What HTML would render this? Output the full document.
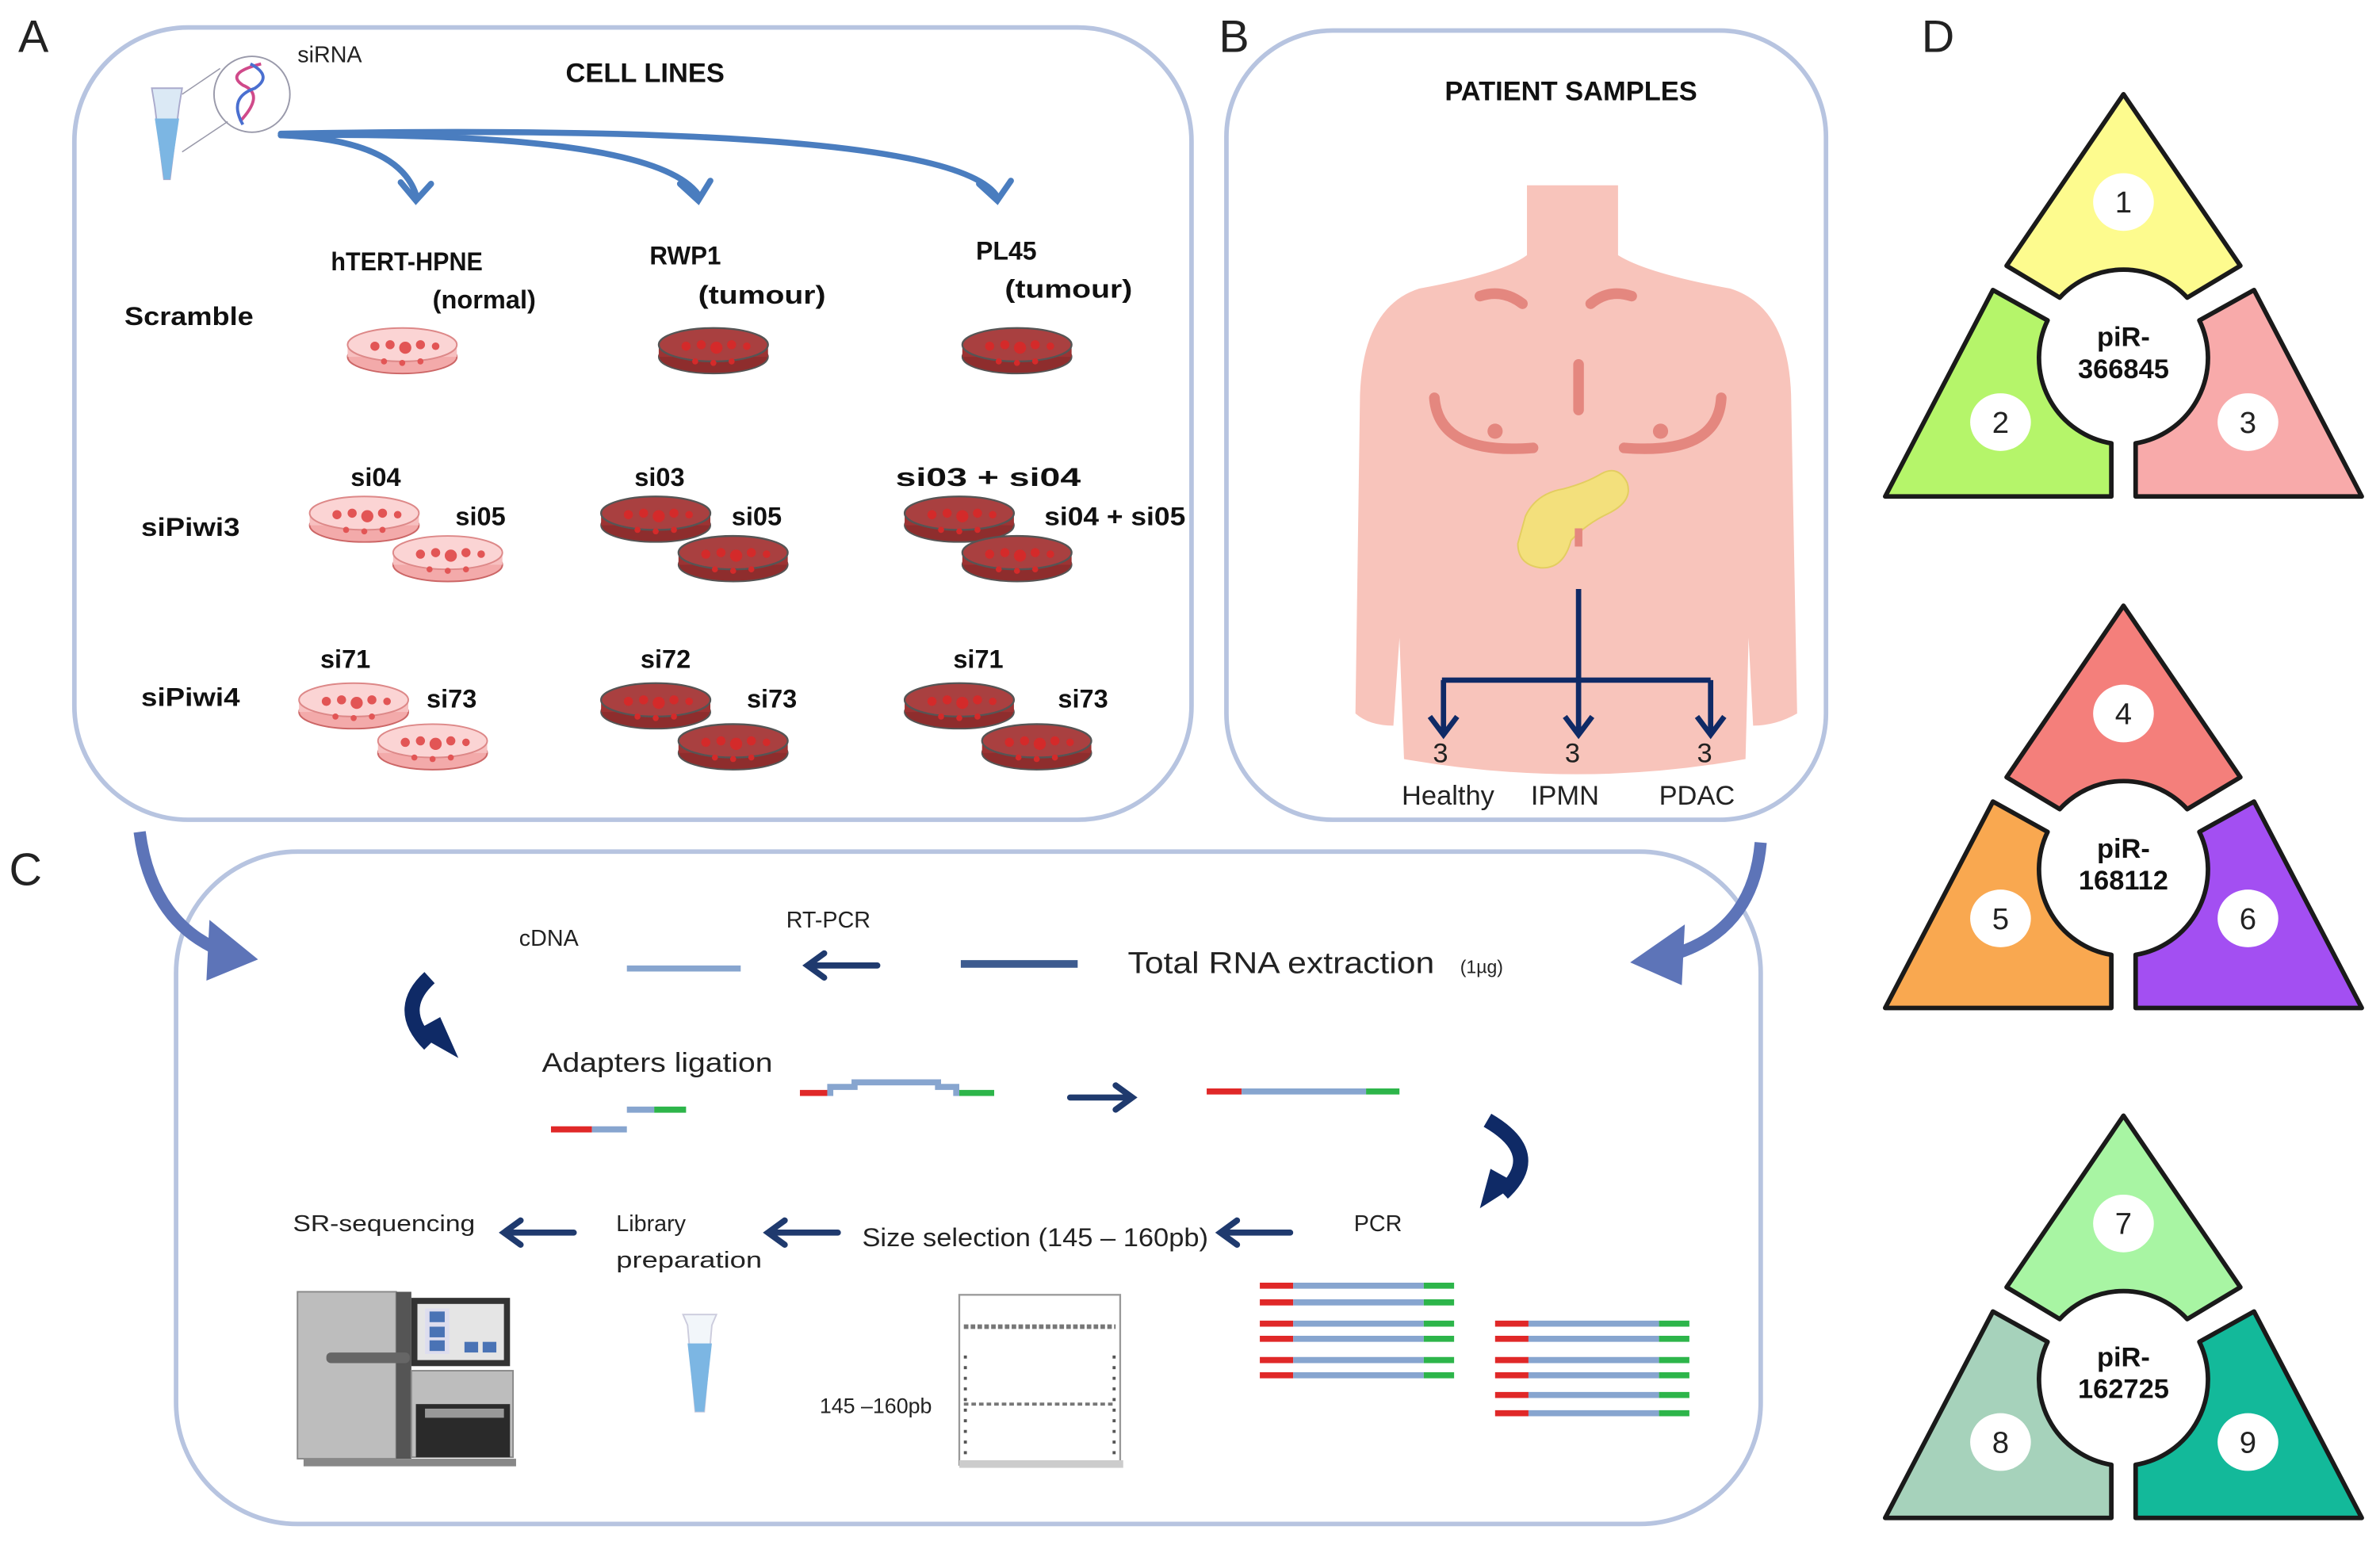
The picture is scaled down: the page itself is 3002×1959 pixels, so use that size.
<!DOCTYPE html>
<html><head><meta charset="utf-8"><style>
html,body{margin:0;padding:0;background:#fff;}
svg{display:block;}
.b{font-family:"Liberation Sans",sans-serif;font-weight:bold;fill:#111;}
.n{font-family:"Liberation Sans",sans-serif;fill:#222;}
</style></head><body>
<svg width="3002" height="1959" viewBox="0 0 1568 1023" xmlns="http://www.w3.org/2000/svg">
<defs>
<g id="dp">
<ellipse cx="0" cy="4" rx="36" ry="11" fill="#f3aaaa" stroke="#c66" stroke-width="1"/>
<rect x="-36" y="-4" width="72" height="8" fill="#f7c0c0"/>
<ellipse cx="0" cy="-4" rx="36" ry="11" fill="#fbd4d4" stroke="#d88" stroke-width="1"/>
<g fill="#e25555"><circle cx="-18" cy="-3" r="3"/><circle cx="-8" cy="-4" r="3"/><circle cx="2" cy="-2" r="4"/><circle cx="12" cy="-4" r="3"/><circle cx="22" cy="-3" r="2.5"/><circle cx="-12" cy="7" r="2"/><circle cx="0" cy="8" r="2"/><circle cx="12" cy="7" r="2"/></g>
</g>
<g id="dd">
<ellipse cx="0" cy="4" rx="36" ry="11" fill="#8e2d2d" stroke="#555" stroke-width="1"/>
<rect x="-36" y="-4" width="72" height="8" fill="#9c3333"/>
<ellipse cx="0" cy="-4" rx="36" ry="11" fill="#a94040" stroke="#555" stroke-width="1.2"/>
<g fill="#d42a2a"><circle cx="-18" cy="-3" r="3"/><circle cx="-8" cy="-4" r="3"/><circle cx="2" cy="-2" r="4"/><circle cx="12" cy="-4" r="3"/><circle cx="22" cy="-3" r="2.5"/><circle cx="-12" cy="7" r="2"/><circle cx="0" cy="8" r="2"/><circle cx="12" cy="7" r="2"/></g>
</g>
<g id="pl" stroke-width="4"><line x1="830" y1="0" x2="852" y2="0" stroke="#e02828"/><line x1="852" y1="0" x2="938" y2="0" stroke="#87a5cf"/><line x1="938" y1="0" x2="958" y2="0" stroke="#2db54a"/></g>
</defs>

<text x="12" y="34" class="n" font-size="30" fill="#000">A</text>
<text x="803" y="34" class="n" font-size="30" fill="#000">B</text>
<text x="6" y="583" class="n" font-size="30" fill="#000">C</text>
<text x="1266" y="34" class="n" font-size="30" fill="#000">D</text>

<rect x="49" y="18" width="736" height="522" rx="75" fill="none" stroke="#b7c4e0" stroke-width="3"/>
<rect x="808" y="20" width="395" height="520" rx="70" fill="none" stroke="#b7c4e0" stroke-width="3"/>
<rect x="116" y="561" width="1044" height="443" rx="80" fill="none" stroke="#b7c4e0" stroke-width="3"/>

<!-- Panel A -->
<path d="M100,58 L120,58 L118,70 L112,118 L108,118 L102,70 Z" fill="#dbe9f5" stroke="#aac" stroke-width="1"/>
<path d="M102,78 L118,78 L112,118 L108,118 Z" fill="#7cb6e3"/>
<circle cx="166" cy="62" r="25" fill="#fff" stroke="#99a" stroke-width="1"/>
<line x1="120" y1="62" x2="145" y2="45" stroke="#99a" stroke-width="0.8"/>
<line x1="120" y1="100" x2="150" y2="80" stroke="#99a" stroke-width="0.8"/>
<path d="M158,80 Q175,62 160,56 Q148,48 172,42" fill="none" stroke="#d04a8a" stroke-width="2"/>
<path d="M160,82 Q150,64 168,58 Q180,50 165,42" fill="none" stroke="#4a6fd0" stroke-width="2"/>
<text x="196" y="41" class="n" font-size="15">siRNA</text>
<text x="425" y="54" class="b" font-size="18" text-anchor="middle">CELL LINES</text>
<g fill="none" stroke="#4a7dbf" stroke-width="4" stroke-linecap="round">
<path d="M185,89 Q262,92 274,128"/>
<path d="M185,89 Q430,86 460,128"/>
<path d="M185,88 Q620,80 656,128"/>
<path d="M264,120 L274,132 L284,121"/>
<path d="M448,121 L460,132 L468,119"/>
<path d="M645,121 L657,132 L666,119"/>
</g>
<g class="b" font-size="17">
<text x="218" y="178" textLength="100" lengthAdjust="spacingAndGlyphs">hTERT-HPNE</text>
<text x="285" y="203" textLength="68" lengthAdjust="spacingAndGlyphs">(normal)</text>
<text x="428" y="174" textLength="47" lengthAdjust="spacingAndGlyphs">RWP1</text>
<text x="460" y="200" textLength="84" lengthAdjust="spacingAndGlyphs">(tumour)</text>
<text x="643" y="171" textLength="40" lengthAdjust="spacingAndGlyphs">PL45</text>
<text x="662" y="196" textLength="84" lengthAdjust="spacingAndGlyphs">(tumour)</text>
<text x="82" y="214" textLength="85" lengthAdjust="spacingAndGlyphs">Scramble</text>
<text x="93" y="353" textLength="65" lengthAdjust="spacingAndGlyphs">siPiwi3</text>
<text x="93" y="465" textLength="65" lengthAdjust="spacingAndGlyphs">siPiwi4</text>
<text x="231" y="320">si04</text>
<text x="300" y="346">si05</text>
<text x="418" y="320">si03</text>
<text x="482" y="346">si05</text>
<text x="590" y="320" textLength="122" lengthAdjust="spacingAndGlyphs">si03 + si04</text>
<text x="688" y="346" textLength="93" lengthAdjust="spacingAndGlyphs">si04 + si05</text>
<text x="211" y="440">si71</text>
<text x="281" y="466">si73</text>
<text x="422" y="440">si72</text>
<text x="492" y="466">si73</text>
<text x="628" y="440">si71</text>
<text x="697" y="466">si73</text>
</g>
<use href="#dp" x="265" y="231"/>
<use href="#dd" x="470" y="231"/>
<use href="#dd" x="670" y="231"/>
<use href="#dp" x="240" y="342"/><use href="#dp" x="295" y="368"/>
<use href="#dd" x="432" y="342"/><use href="#dd" x="483" y="368"/>
<use href="#dd" x="632" y="342"/><use href="#dd" x="670" y="368"/>
<use href="#dp" x="233" y="465"/><use href="#dp" x="285" y="492"/>
<use href="#dd" x="432" y="465"/><use href="#dd" x="483" y="492"/>
<use href="#dd" x="632" y="465"/><use href="#dd" x="683" y="492"/>

<!-- Panel B -->
<text x="1035" y="66" class="b" font-size="18" text-anchor="middle">PATIENT SAMPLES</text>
<path d="M1006,122 L1066,122 L1066,168 Q1085,180 1140,190 Q1178,202 1180,260 L1184,470 Q1170,478 1155,478 L1152,420 L1150,500 Q1040,520 925,500 L922,420 L918,478 Q902,478 893,470 L896,260 Q898,202 935,190 Q990,180 1006,168 Z" fill="#f8c4bb"/>
<g fill="none" stroke="#e4877f" stroke-width="7" stroke-linecap="round">
<path d="M975,195 Q990,190 1003,200"/>
<path d="M1048,200 Q1060,190 1075,195"/>
<path d="M1040,240 L1040,270"/>
<path d="M945,262 Q948,300 1010,295"/>
<path d="M1070,295 Q1132,300 1134,262"/>
</g>
<circle cx="985" cy="284" r="5" fill="#e4877f"/>
<circle cx="1094" cy="284" r="5" fill="#e4877f"/>
<path d="M1005,340 Q1012,325 1030,322 Q1045,318 1055,312 Q1066,306 1072,318 Q1076,330 1060,338 Q1045,345 1035,356 Q1030,375 1015,374 Q1000,372 1000,358 Z" fill="#f3e07c" stroke="#e3cd60" stroke-width="1"/>
<path d="M1040,348 L1040,360" stroke="#e4877f" stroke-width="5"/>
<g fill="none" stroke="#0f2a66" stroke-width="3.5">
<path d="M1040,388 L1040,482"/>
<path d="M950,448 L1127,448"/>
<path d="M951,448 L951,482"/>
<path d="M1127,448 L1127,482"/>
<path d="M942,472 L951,484 L960,472"/>
<path d="M1031,472 L1040,484 L1049,472"/>
<path d="M1118,472 L1127,484 L1136,472"/>
</g>
<g class="n" font-size="18" text-anchor="middle">
<text x="949" y="502">3</text><text x="1036" y="502">3</text><text x="1123" y="502">3</text>
<text x="954" y="530">Healthy</text><text x="1031" y="530">IPMN</text><text x="1118" y="530">PDAC</text>
</g>

<path d="M92,548 Q100,610 150,628" fill="none" stroke="#5d74b8" stroke-width="8"/>
<path d="M138,606 L170,632 L136,646 Z" fill="#5d74b8"/>
<path d="M1160,555 Q1155,615 1098,630" fill="none" stroke="#5d74b8" stroke-width="8"/>
<path d="M1110,609 L1074,634 L1108,649 Z" fill="#5d74b8"/>

<!-- Panel C -->
<g class="n" font-size="15">
<text x="342" y="623">cDNA</text>
<text x="518" y="611">RT-PCR</text>
<text x="357" y="706" font-size="18" textLength="152" lengthAdjust="spacingAndGlyphs">Adapters ligation</text>
<text x="193" y="811" textLength="120" lengthAdjust="spacingAndGlyphs">SR-sequencing</text>
<text x="406" y="811">Library</text>
<text x="406" y="835" textLength="96" lengthAdjust="spacingAndGlyphs">preparation</text>
<text x="568" y="821" font-size="17" textLength="228" lengthAdjust="spacingAndGlyphs">Size selection (145 – 160pb)</text>
<text x="892" y="811">PCR</text>
<text x="540" y="931" font-size="14">145 –160pb</text>
</g>
<text x="743" y="641" class="n" font-size="20" textLength="202" lengthAdjust="spacingAndGlyphs">Total RNA extraction</text>
<text x="962" y="641" class="n" font-size="12">(1µg)</text>
<line x1="413" y1="638" x2="488" y2="638" stroke="#87a5cf" stroke-width="4"/>
<line x1="633" y1="635" x2="710" y2="635" stroke="#3d5b8f" stroke-width="5"/>
<g fill="none" stroke="#1f3a6e" stroke-width="4" stroke-linecap="round">
<path d="M578,636 L533,636 M543,628 L532,636 L543,644"/>
<path d="M705,723 L745,723 M735,715 L746,723 L735,731"/>
<path d="M378,812 L333,812 M343,804 L332,812 L343,820"/>
<path d="M552,812 L507,812 M517,804 L506,812 L517,820"/>
<path d="M850,812 L805,812 M815,804 L804,812 L815,820"/>
</g>
<path d="M283,644 Q260,665 283,688" fill="none" stroke="#0f2a66" stroke-width="10"/>
<path d="M272,680 L302,697 L290,670 Z" fill="#0f2a66"/>
<path d="M980,738 Q1018,760 990,786" fill="none" stroke="#0f2a66" stroke-width="10"/>
<path d="M1000,780 L975,796 L982,770 Z" fill="#0f2a66"/>
<g stroke-width="4">
<line x1="363" y1="744" x2="390" y2="744" stroke="#e02828"/>
<line x1="390" y1="744" x2="413" y2="744" stroke="#87a5cf"/>
<line x1="413" y1="731" x2="431" y2="731" stroke="#87a5cf"/>
<line x1="431" y1="731" x2="452" y2="731" stroke="#2db54a"/>
<line x1="527" y1="720" x2="547" y2="720" stroke="#e02828"/>
<line x1="630" y1="720" x2="655" y2="720" stroke="#2db54a"/>
<line x1="795" y1="719" x2="818" y2="719" stroke="#e02828"/>
<line x1="818" y1="719" x2="900" y2="719" stroke="#87a5cf"/>
<line x1="900" y1="719" x2="922" y2="719" stroke="#2db54a"/>
</g>
<path d="M547,722 L547,716 L563,716 L563,713 L618,713 L618,716 L630,716 L630,722" fill="none" stroke="#87a5cf" stroke-width="4"/>
<use href="#pl" y="847"/><use href="#pl" y="858"/><use href="#pl" y="872"/><use href="#pl" y="882"/><use href="#pl" y="896"/><use href="#pl" y="906"/>
<use href="#pl" x="155" y="872"/><use href="#pl" x="155" y="882"/><use href="#pl" x="155" y="896"/><use href="#pl" x="155" y="906"/><use href="#pl" x="155" y="919"/><use href="#pl" x="155" y="931"/>
<rect x="196" y="851" width="65" height="110" fill="#bdbdbd" stroke="#888" stroke-width="1"/>
<rect x="261" y="851" width="10" height="110" fill="#555"/>
<rect x="271" y="855" width="65" height="45" fill="#333"/>
<rect x="275" y="859" width="57" height="37" fill="#e5e5e5"/>
<rect x="280" y="862" width="16" height="30" fill="#dde"/>
<rect x="283" y="864" width="10" height="7" fill="#4a73b5"/><rect x="283" y="874" width="10" height="7" fill="#4a73b5"/><rect x="283" y="883" width="10" height="7" fill="#4a73b5"/>
<rect x="306" y="884" width="9" height="7" fill="#4a73b5"/><rect x="318" y="884" width="9" height="7" fill="#4a73b5"/>
<rect x="271" y="903" width="67" height="57" fill="#bdbdbd" stroke="#888" stroke-width="1"/>
<rect x="274" y="925" width="62" height="35" fill="#2a2a2a"/>
<rect x="280" y="928" width="52" height="6" fill="#999"/>
<rect x="215" y="891" width="55" height="7" rx="3" fill="#666"/>
<rect x="200" y="961" width="140" height="5" fill="#888"/>
<path d="M450,866 L472,866 L469,873 L464,930 L458,930 L453,873 Z" fill="#f2f6fa" stroke="#ccd" stroke-width="1"/>
<path d="M453,885 L469,885 L464,930 L458,930 Z" fill="#7cb6e3"/>
<rect x="632" y="853" width="106" height="112" fill="#fff" stroke="#999" stroke-width="1.2"/>
<rect x="632" y="962" width="108" height="5" fill="#ccc"/>
<line x1="635" y1="874" x2="735" y2="874" stroke="#777" stroke-width="3" stroke-dasharray="3,1.5"/>
<line x1="635" y1="925" x2="735" y2="925" stroke="#777" stroke-width="2" stroke-dasharray="3,2"/>
<line x1="636" y1="893" x2="636" y2="960" stroke="#555" stroke-width="2" stroke-dasharray="2,5"/>
<line x1="734" y1="893" x2="734" y2="960" stroke="#555" stroke-width="2" stroke-dasharray="2,5"/>

<!-- Panel D -->
<g stroke="#1a1a1a" stroke-width="3" stroke-linejoin="round">
<path d="M1399,62 L1476,175 L1441,196 A57,57 0 0 0 1357,196 L1322,175 Z" fill="#fdfb8e"/>
<path d="M1313,191 L1349,211 A57,57 0 0 0 1391,292 L1391,327 L1242,327 Z" fill="#b5f56a"/>
<path d="M1485,191 L1449,211 A57,57 0 0 1 1407,292 L1407,327 L1556,327 Z" fill="#f8aaaa"/>
</g>
<g stroke="#1a1a1a" stroke-width="3" stroke-linejoin="round" transform="translate(0,337)">
<path d="M1399,62 L1476,175 L1441,196 A57,57 0 0 0 1357,196 L1322,175 Z" fill="#f47f7b"/>
<path d="M1313,191 L1349,211 A57,57 0 0 0 1391,292 L1391,327 L1242,327 Z" fill="#f9a850"/>
<path d="M1485,191 L1449,211 A57,57 0 0 1 1407,292 L1407,327 L1556,327 Z" fill="#a34ff2"/>
</g>
<g stroke="#1a1a1a" stroke-width="3" stroke-linejoin="round" transform="translate(0,673)">
<path d="M1399,62 L1476,175 L1441,196 A57,57 0 0 0 1357,196 L1322,175 Z" fill="#a8f5a3"/>
<path d="M1313,191 L1349,211 A57,57 0 0 0 1391,292 L1391,327 L1242,327 Z" fill="#a6d2bb"/>
<path d="M1485,191 L1449,211 A57,57 0 0 1 1407,292 L1407,327 L1556,327 Z" fill="#13b99a"/>
</g>
<g fill="#fff">
<ellipse cx="1399" cy="133" rx="20" ry="19"/><ellipse cx="1318" cy="278" rx="20" ry="19"/><ellipse cx="1481" cy="278" rx="20" ry="19"/>
<ellipse cx="1399" cy="470" rx="20" ry="19"/><ellipse cx="1318" cy="605" rx="20" ry="19"/><ellipse cx="1481" cy="605" rx="20" ry="19"/>
<ellipse cx="1399" cy="806" rx="20" ry="19"/><ellipse cx="1318" cy="950" rx="20" ry="19"/><ellipse cx="1481" cy="950" rx="20" ry="19"/>
</g>
<g class="n" font-size="20" text-anchor="middle" fill="#333">
<text x="1399" y="140">1</text><text x="1318" y="285">2</text><text x="1481" y="285">3</text>
<text x="1399" y="477">4</text><text x="1318" y="612">5</text><text x="1481" y="612">6</text>
<text x="1399" y="813">7</text><text x="1318" y="957">8</text><text x="1481" y="957">9</text>
</g>
<g class="b" font-size="18" text-anchor="middle" fill="#333">
<text x="1399" y="228">piR-</text><text x="1399" y="249">366845</text>
<text x="1399" y="565">piR-</text><text x="1399" y="586">168112</text>
<text x="1399" y="900">piR-</text><text x="1399" y="921">162725</text>
</g>
</svg>
</body></html>
